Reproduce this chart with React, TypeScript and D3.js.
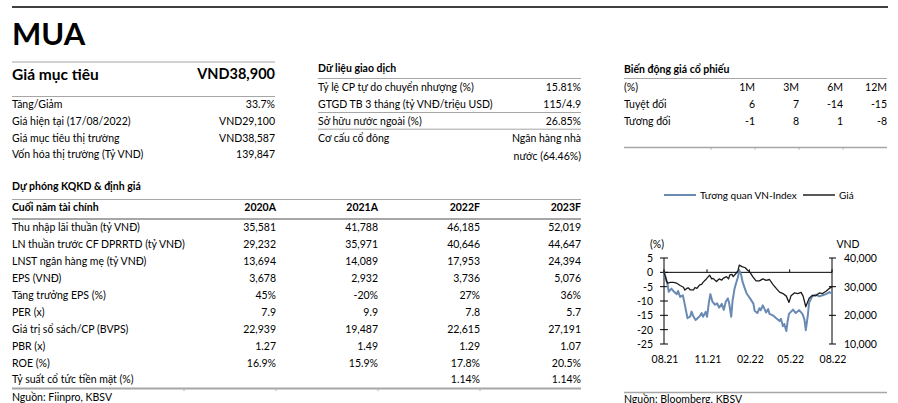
import React from "react";
import * as d3 from "d3";

// ---------- DATA ----------
const rating = "MUA";
const targetLabel = "Giá mục tiêu";
const targetValue = "VND38,900";
const summaryLabels = ["Tăng/Giảm", "Giá hiện tại (17/08/2022)", "Giá mục tiêu thị trường", "Vốn hóa thị trường (Tỷ VND)"];
const summaryValues = ["33.7%", "VND29,100", "VND38,587", "139,847"];

const tradingTitle = "Dữ liệu giao dịch";
const tradingLabels = ["Tỷ lệ CP tự do chuyển nhượng (%)", "GTGD TB 3 tháng (tỷ VNĐ/triệu USD)", "Sở hữu nước ngoài (%)", "Cơ cấu cổ đông"];
const tradingValues = ["15.81%", "115/4.9", "26.85%", "Ngân hàng nhà"];
const tradingValueExtra = "nước (64.46%)";

const perfTitle = "Biến động giá cổ phiếu";
const perfPeriods = ["1M", "3M", "6M", "12M"];
const perfAbsolute = [6, 7, -14, -15];
const perfRelative = [-1, 8, 1, -8];

const forecastTitle = "Dự phóng KQKD & định giá";
const forecastHeader = "Cuối năm tài chính";
const forecastYears = ["2020A", "2021A", "2022F", "2023F"];
const forecastLabels = [
  "Thu nhập lãi thuần (tỷ VNĐ)",
  "LN thuần trước CF DPRRTD (tỷ VNĐ)",
  "LNST ngân hàng mẹ (tỷ VNĐ)",
  "EPS (VNĐ)",
  "Tăng trưởng EPS (%)",
  "PER (x)",
  "Giá trị sổ sách/CP (BVPS)",
  "PBR (x)",
  "ROE (%)",
  "Tỷ suất cổ tức tiền mặt (%)",
];
const forecast2020 = ["35,581", "29,232", "13,694", "3,678", "45%", "7.9", "22,939", "1.27", "16.9%", ""];
const forecast2021 = ["41,788", "35,971", "14,089", "2,932", "-20%", "9.9", "19,487", "1.49", "15.9%", ""];
const forecast2022 = ["46,185", "40,646", "17,953", "3,736", "27%", "7.8", "22,615", "1.29", "17.8%", "1.14%"];
const forecast2023 = ["52,019", "44,647", "24,394", "5,076", "36%", "5.7", "27,191", "1.07", "20.5%", "1.14%"];
const forecastSource = "Nguồn: Fiinpro, KBSV";

// chart: trading-session index (0..250) and values
const relSessions = [0, 2.5, 5.5, 7, 11, 15, 19, 21, 24, 28, 30, 33, 35, 39, 41, 44, 47, 51, 54, 56, 58, 62, 64, 67, 69, 72, 76, 79, 82, 86, 89, 92, 95, 97, 100, 102, 105, 107, 110, 112, 115, 117, 123, 128, 133, 135, 139, 142, 144, 147, 150, 152, 155, 157, 162, 167, 172, 174, 177, 179, 182, 184, 186, 192, 196, 201, 206, 209, 211, 214, 216, 221, 226, 231, 236, 241, 246, 250];
const relValues = [0, -1.7, -4.5, -6.8, -5.7, -6.8, -7.6, -6.5, -8.6, -8.0, -10.2, -13.7, -16.0, -15.4, -13.7, -15.5, -16.6, -15.8, -15.0, -14.2, -15.5, -13.8, -15.5, -10.2, -7.6, -10.2, -11.3, -10.8, -12.3, -11.0, -13.1, -10.2, -9.1, -10.8, -15.5, -10.0, -5.7, -4.0, -1.7, 0.8, -1.1, -3.4, -7.4, -9.1, -10.9, -13.5, -14.2, -12.5, -13.2, -11.5, -13.0, -14.0, -12.8, -14.5, -15.0, -16.0, -17.0, -16.2, -18.8, -18.0, -20.5, -17.0, -14.5, -13.0, -14.2, -13.2, -14.5, -16.5, -20.2, -15.0, -10.5, -8.2, -7.8, -8.4, -8.0, -7.6, -6.9, -7.4];
const priceSessions = [0, 2, 4, 6, 9, 14, 19, 24, 29, 31, 34, 36, 39, 44, 46, 49, 53, 56, 58, 63, 66, 68, 71, 73, 78, 82, 86, 88, 93, 96, 98, 101, 103, 107, 110, 112, 116, 121, 124, 128, 132, 137, 142, 147, 152, 157, 162, 167, 172, 177, 182, 186, 189, 194, 199, 204, 207, 211, 216, 221, 226, 231, 236, 241, 246, 250];
const priceValues = [35000, 33500, 31800, 31200, 31500, 31500, 31200, 30400, 29800, 28800, 29400, 29600, 28900, 28900, 29700, 29400, 30600, 30800, 31500, 32700, 33500, 34000, 32700, 32900, 31800, 32700, 32300, 32900, 33500, 32700, 34100, 34300, 33500, 34600, 35500, 37500, 37000, 36600, 35800, 35000, 33500, 32000, 32000, 32700, 32200, 32500, 30800, 29400, 28100, 27600, 26700, 24500, 26800, 27800, 27600, 28000, 26700, 23000, 26000, 27000, 26800, 27800, 27600, 28400, 29400, 30000];
const xTickSessions = [0, 64, 127, 187, 250];
const xTickLabels = ["08.21", "11.21", "02.22", "05.22", "08.22"];
const leftTicks = [5, 0, -5, -10, -15, -20, -25];
const rightTicks = [40000, 30000, 20000, 10000];
const legendLabels = ["Tương quan VN-Index", "Giá"];
const chartSource = "Nguồn: Bloomberg, KBSV";

// ---------- STYLE ----------
const W = 898;
const H = 403;
const FONT = "Lato, 'Liberation Sans', sans-serif";
const FS = 10.5;
const CFS = 10.5;
const LFS = 10;
const GRAY = "#a6a6a6";
const BLUE = "#6a8ab4";
const INK = "#000";

export default function App() {
  const fmt = d3.format(",");

  // layout anchors
  const L0 = 12, L1 = 275;
  const M0 = 318, M1 = 581;
  const R0 = 624, R1 = 887;

  // chart scales
  const x = d3.scaleLinear().domain([0, 250]).range([664, 832]);
  const yL = d3.scaleLinear().domain([-25, 5]).range([344, 258]);
  const yR = d3.scaleLinear().domain([10000, 40000]).range([344, 258]);
  const relLine = d3.line<number>().x((_, i) => x(relSessions[i])).y((d) => yL(d));
  const priceLine = d3.line<number>().x((_, i) => x(priceSessions[i])).y((d) => yR(d));

  const sumRowY = (i: number) => 104 + i * 16.8;
  const trRowY = [87.3, 104, 120.7, 138.3, 156];
  const fcRowY = (i: number) => 227.3 + i * 16.9;
  const fcColX = [276, 378, 480, 581];
  const perfColX = [755, 799, 843, 887];
  const fcTickX = [184, 276, 378, 480];
  const perfTickX = [711, 755, 799, 843];

  const txt = (props: any, s: string, key?: any) => (
    <text key={key} fontFamily={FONT} fontSize={FS} fill={INK} dominantBaseline="central" {...props}>{s}</text>
  );

  return (
    <svg width={W} height={H} style={{ position: "absolute", left: 0, top: 0, background: "#fff" }}>
      {/* top rule */}
      <line x1={12} x2={888} y1={7} y2={7} stroke="#000" strokeWidth={1.5} />
      {/* rating */}
      <text x={12} y={45} fontFamily={FONT} fontWeight={700} fontSize={31} fill="#000">{rating}</text>

      {/* target block */}
      <line x1={L0} x2={L1} y1={62} y2={62} stroke={GRAY} strokeWidth={1} />
      {txt({ x: L0, y: 73.5, fontWeight: 700, fontSize: 15.5 }, targetLabel)}
      {txt({ x: L1, y: 73.5, fontWeight: 700, fontSize: 14.5, textAnchor: "end" }, targetValue)}
      <line x1={L0} x2={L1} y1={96.5} y2={96.5} stroke={GRAY} strokeWidth={1} />
      {summaryLabels.map((l, i) => txt({ x: L0, y: sumRowY(i) }, l, "sl" + i))}
      {summaryValues.map((v, i) => txt({ x: L1, y: sumRowY(i), textAnchor: "end" }, v, "sv" + i))}

      {/* trading data */}
      {txt({ x: M0, y: 68.3, fontWeight: 700 }, tradingTitle)}
      <line x1={M0} x2={M1} y1={78.5} y2={78.5} stroke={GRAY} strokeWidth={1} />
      {tradingLabels.map((l, i) => txt({ x: M0, y: trRowY[i] }, l, "tl" + i))}
      {tradingValues.map((v, i) => txt({ x: M1, y: trRowY[i], textAnchor: "end" }, v, "tv" + i))}
      {txt({ x: M1, y: trRowY[4], textAnchor: "end" }, tradingValueExtra)}
      <line x1={M0} x2={M1} y1={112.5} y2={112.5} stroke={GRAY} strokeWidth={1} />
      <line x1={M0} x2={M1} y1={129.2} y2={129.2} stroke={GRAY} strokeWidth={1} />

      {/* performance */}
      {txt({ x: R0, y: 69.3, fontWeight: 700 }, perfTitle)}
      <line x1={R0} x2={R1} y1={78.5} y2={78.5} stroke={GRAY} strokeWidth={1} />
      {txt({ x: R0, y: 86.7 }, "(%)")}
      {perfPeriods.map((p, i) => txt({ x: perfColX[i], y: 86.7, textAnchor: "end" }, p, "pp" + i))}
      {txt({ x: R0, y: 103.5 }, "Tuyệt đối")}
      {perfAbsolute.map((v, i) => txt({ x: perfColX[i], y: 103.5, textAnchor: "end" }, String(v), "pa" + i))}
      {txt({ x: R0, y: 120.7 }, "Tương đối")}
      {perfRelative.map((v, i) => txt({ x: perfColX[i], y: 120.7, textAnchor: "end" }, String(v), "pr" + i))}
      <line x1={R0} x2={R1} y1={147.5} y2={147.5} stroke={GRAY} strokeWidth={1.5} />
      {perfTickX.map((tx) => (
        <line key={"pt" + tx} x1={tx} x2={tx} y1={148} y2={149.5} stroke={GRAY} strokeWidth={1} />
      ))}

      {/* forecast table */}
      {txt({ x: L0, y: 186, fontWeight: 700 }, forecastTitle)}
      <line x1={L0} x2={M1} y1={199.5} y2={199.5} stroke={GRAY} strokeWidth={1} />
      {txt({ x: L0, y: 206.7, fontWeight: 700 }, forecastHeader)}
      {forecastYears.map((yv, i) => txt({ x: fcColX[i], y: 206.7, fontWeight: 700, textAnchor: "end" }, yv, "fy" + i))}
      <line x1={L0} x2={M1} y1={219} y2={219} stroke={GRAY} strokeWidth={2} />
      {forecastLabels.map((l, i) => txt({ x: L0, y: fcRowY(i) }, l, "fl" + i))}
      {[forecast2020, forecast2021, forecast2022, forecast2023].map((col, c) =>
        col.map((v, i) => (v ? txt({ x: fcColX[c], y: fcRowY(i), textAnchor: "end" }, v, `f${c}-${i}`) : null))
      )}
      <line x1={L0} x2={M1} y1={388.5} y2={388.5} stroke={GRAY} strokeWidth={2} />
      {fcTickX.map((tx) => (
        <line key={"ft" + tx} x1={tx} x2={tx} y1={389.5} y2={391} stroke={GRAY} strokeWidth={1} />
      ))}
      {txt({ x: L0, y: 396.5 }, forecastSource)}

      {/* chart legend */}
      <line x1={664} x2={696} y1={195} y2={195} stroke={BLUE} strokeWidth={2} />
      {txt({ x: 700, y: 195, fontSize: LFS }, legendLabels[0])}
      <line x1={803} x2={835} y1={195} y2={195} stroke="#222" strokeWidth={1.5} />
      {txt({ x: 839, y: 195, fontSize: LFS }, legendLabels[1])}

      {/* axes */}
      {txt({ x: 657, y: 244, fontSize: CFS, textAnchor: "middle" }, "(%)")}
      {txt({ x: 848, y: 244, fontSize: CFS, textAnchor: "middle" }, "VND")}
      <line x1={664} x2={664} y1={yL(5)} y2={yL(-25)} stroke="#000" />
      {leftTicks.map((t) => (
        <g key={"lt" + t}>
          <line x1={660} x2={668} y1={yL(t)} y2={yL(t)} stroke="#000" />
          {txt({ x: 653, y: yL(t), fontSize: CFS, textAnchor: "end" }, String(t))}
        </g>
      ))}
      <line x1={832} x2={832} y1={yR(40000)} y2={yR(10000)} stroke="#000" />
      {rightTicks.map((t) => (
        <g key={"rt" + t}>
          <line x1={829} x2={836} y1={yR(t)} y2={yR(t)} stroke="#000" />
          {txt({ x: 844, y: yR(t), fontSize: CFS }, fmt(t))}
        </g>
      ))}
      <line x1={x(0)} x2={x(250)} y1={yL(0)} y2={yL(0)} stroke="#000" />
      {xTickSessions.map((s, i) => (
        <g key={"xt" + i}>
          <line x1={x(s)} x2={x(s)} y1={yL(0)} y2={yL(0) - 3} stroke="#000" />
          {txt({ x: x(s) + 1, y: 359, fontSize: CFS, textAnchor: "middle" }, xTickLabels[i])}
        </g>
      ))}
      <path d={relLine(relValues) || ""} fill="none" stroke={BLUE} strokeWidth={2} strokeLinejoin="round" />
      <path d={priceLine(priceValues) || ""} fill="none" stroke="#1a1a1a" strokeWidth={1.3} strokeLinejoin="round" />

      <line x1={R0} x2={R1} y1={392.5} y2={392.5} stroke={GRAY} strokeWidth={1.5} />
      {txt({ x: R0, y: 398.5 }, chartSource)}
    </svg>
  );
}
